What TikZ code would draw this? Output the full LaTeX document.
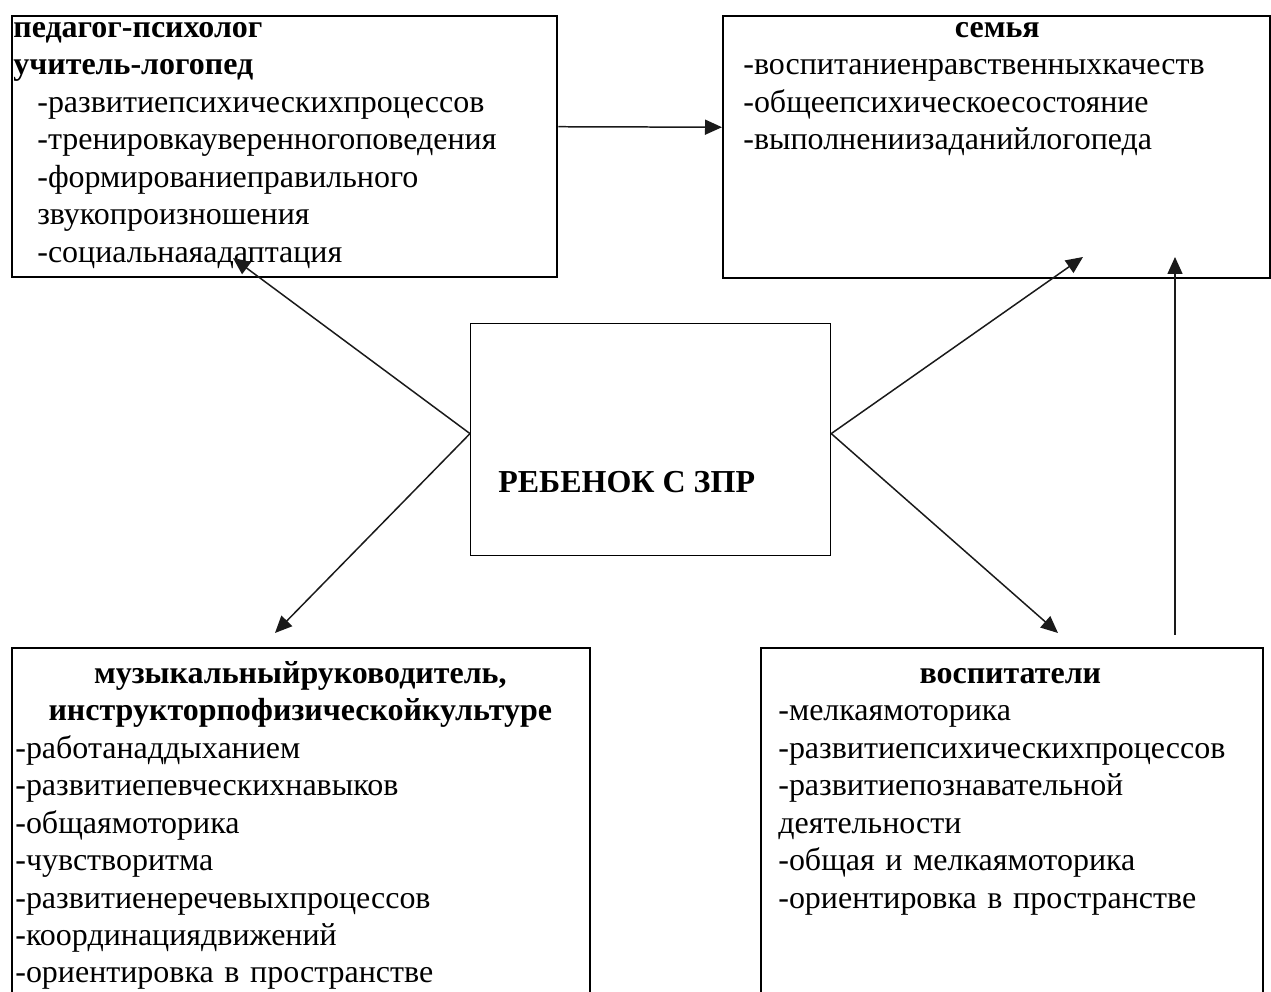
\documentclass[tikz,border=0pt]{standalone}
\usepackage{fontspec}
\setmainfont{Liberation Serif}
\usetikzlibrary{arrows.meta,positioning,calc}
\definecolor{Ink}{HTML}{000000}
\definecolor{Wire}{HTML}{1A1A1A}

\begin{document}
\begin{tikzpicture}[
  x=0.2mm,y=-0.2mm,
  box/.style={draw=Ink,line width=1.4pt,inner sep=0pt,anchor=north west},
  box2/.style={draw=Ink,line width=0.7pt,inner sep=0pt,anchor=north west},
  txt/.style={inner sep=0pt,anchor=north west,align=left,font=\fontsize{18.2}{21.3}\selectfont},
  arrow/.style={-{Triangle[length=3.4mm,width=3mm]},line width=0.85pt,draw=Wire}
]
\useasboundingbox (0,0) rectangle (1271,992);
\clip (0,0) rectangle (1271,992);
\node[box,minimum width=109mm,minimum height=52.2mm] (ped) at (11,15) {};
\node[box,minimum width=109.4mm,minimum height=52.4mm] (sem) at (722,15) {};
\node[box2,minimum width=72mm,minimum height=46.4mm] (child) at (470,323) {};
\node[box,minimum width=115.6mm,minimum height=72.6mm] (muz) at (11,647) {};
\node[box,minimum width=100.4mm,minimum height=72.6mm] (vos) at (760,647) {};

\node[txt] (pedT) at (13,11) {\strut\textbf{педагог-психолог}\\
  \textbf{учитель-логопед}\\
  \hspace*{4.8mm}-развитиепсихическихпроцессов\\
  \hspace*{4.8mm}-тренировкауверенногоповедения\\
  \hspace*{4.8mm}-формированиеправильного\\
  \hspace*{4.8mm}звукопроизношения\\
  \hspace*{4.8mm}-социальнаяадаптация};
\node[txt,text width=101.6mm] (semT) at (743,11) {{\centering\bfseries\strut семья\par}
  -воспитаниенравственныхкачеств\\
  -общеепсихическоесостояние\\
  -выполнениизаданийлогопеда};
\node[txt,text width=114mm] (muzT) at (15,657) {{\centering\bfseries\strut музыкальныйруководитель,\\
  инструкторпофизическойкультуре\par}
  -работанаддыханием\\
  -развитиепевческихнавыков\\
  -общаямоторика\\
  -чувстворитма\\
  -развитиенеречевыхпроцессов\\
  -координациядвижений\\
  -ориентировка в пространстве};
\node[txt,text width=92.8mm] (vosT) at (778,657) {{\centering\bfseries\strut воспитатели\par}
  -мелкаямоторика\\
  -развитиепсихическихпроцессов\\
  -развитиепознавательной\\
  деятельности\\
  -общая и мелкаямоторика\\
  -ориентировка в пространстве};
\node[txt,anchor=base west] (childT) at (498,493) {\textbf{РЕБЕНОК С ЗПР}};

% free ends of the arrows
\coordinate (cl) at ([yshift=1.2mm]child.west);
\coordinate (cr) at ([yshift=1.2mm]child.east);
\coordinate (pedIn) at (233,258);
\coordinate (muzIn) at (275,633);
\coordinate (semIn) at (1083,257);
\coordinate (vosIn) at (1058,633);
\coordinate (vosUp) at (1175,635);
\coordinate (semUp) at (1175,257);

\draw[arrow] ([yshift=4mm]ped.east) -- ([yshift=4mm]sem.west);
\draw[arrow] (cl) -- (pedIn);
\draw[arrow] (cl) -- (muzIn);
\draw[arrow] (cr) -- (semIn);
\draw[arrow] (cr) -- (vosIn);
\draw[arrow] (vosUp) -- (semUp);
\end{tikzpicture}
\end{document}
